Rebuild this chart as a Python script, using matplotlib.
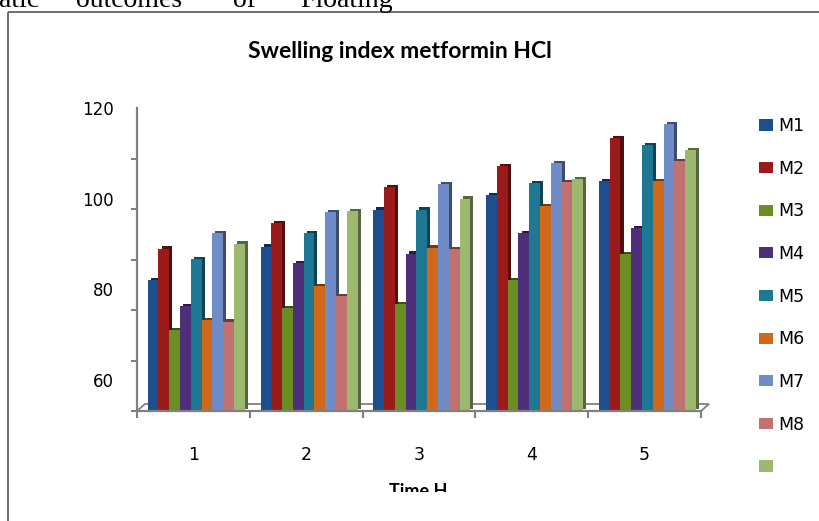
import numpy as np
import matplotlib
matplotlib.use('Agg')
import matplotlib.pyplot as plt
import matplotlib.patheffects as pe
from matplotlib.patches import Patch, Polygon, Rectangle
from matplotlib import colors as mcolors

# data
hours = ['1', '2', '3', '4', '5']
series = ['M1', 'M2', 'M3', 'M4', 'M5', 'M6', 'M7', 'M8', '']
M1 = [82.1, 89.4, 97.6, 100.8, 103.9]
M2 = [89.0, 94.6, 102.5, 107.1, 113.3]
M3 = [71.0, 75.8, 76.8, 82.1, 87.8]
M4 = [76.3, 85.7, 87.9, 92.4, 93.5]
M5 = [86.6, 92.4, 97.6, 103.5, 111.8]
M6 = [73.2, 80.7, 89.2, 98.4, 103.9]
M7 = [92.4, 97.1, 103.2, 107.8, 116.5]
M8 = [72.9, 78.5, 88.8, 103.7, 108.2]
M9 = [90.1, 97.3, 100.0, 104.3, 110.7]
values = [M1, M2, M3, M4, M5, M6, M7, M8, M9]
ytick_labels = [60, 80, 100, 120]

bar_colors = ['#1f4e8e', '#9b1a1a', '#6b8e23', '#4e2f7a', '#1e7893',
              '#d0691a', '#6f8cc6', '#c27171', '#9db96f']

plt.rcParams['font.family'] = ['DejaVu Sans']

W, H = 820, 521
fig = plt.figure(figsize=(W / 100, H / 100), dpi=100)


def px(x, y):
    # pixel position (from top-left) -> figure fraction
    return x / W, 1 - y / H


# outer frame of the chart object
fig.patches.append(Rectangle(px(8, 12), 1.0, -1.0, transform=fig.transFigure,
                             fill=False, edgecolor='#555555', lw=1.2))

# cut-off line of body text above the chart
for word, x in [('atic', -1), ('outcomes', 76), ('of', 233), ('Floating', 300)]:
    fig.text(*px(x, 7), word, family='Liberation Serif', fontsize=20,
             va='baseline', ha='left', color='black')

fig.text(*px(400, 58), 'Swelling index metformin HCl', family='Lato',
         weight='bold', fontsize=16.5, ha='center', va='baseline')

# axis title is clipped by the bottom of the chart area in the reference
xlab = fig.text(*px(418, 497), 'Time H', family='Lato', weight='bold',
                fontsize=13, ha='center', va='baseline')
clip = Rectangle(px(0, 492), 1.0, 1.0, transform=fig.transFigure)
xlab.set_clip_path(clip)

l, t = px(137, 108)
r, b = px(701, 411)
ax = fig.add_axes([l, b, r - l, t - b])

ymin, ymax = 53.16, 120
ax.set_ylim(ymin, ymax)
ax.set_xlim(-0.5, len(hours) - 0.5)

# thin 3D floor under the bars
dx, dy = 8 / 564, 7 / 303
floor = Polygon([(0, 0), (1, 0), (1 + dx, dy), (dx, dy)], closed=True,
                transform=ax.transAxes, facecolor='white',
                edgecolor='#808080', lw=1.3, clip_on=False, zorder=1)
ax.add_patch(floor)

n = len(series)
width = 0.86 / n
x = np.arange(len(hours))
for i, (vals, c) in enumerate(zip(values, bar_colors)):
    pos = x + 0.025 + (i - (n - 1) / 2) * width
    dark = tuple(np.array(mcolors.to_rgb(c)) * 0.55)
    bars = ax.bar(pos, np.array(vals) - ymin, width, bottom=ymin, color=c,
                  zorder=2 + i * 0.01, linewidth=0)
    for p in bars:
        p.set_path_effects([pe.SimplePatchShadow(offset=(2.2, 1.6),
                                                 shadow_rgbFace=dark, alpha=1),
                            pe.Normal()])

for s in ['top', 'right']:
    ax.spines[s].set_visible(False)
for s in ['left', 'bottom']:
    ax.spines[s].set_color('#808080')
    ax.spines[s].set_linewidth(1.6)
    ax.spines[s].set_zorder(5)

ax.set_yticks(ytick_labels)
ax.set_yticklabels([str(v) for v in ytick_labels])
ax.set_yticks(np.linspace(ymin, ymax, 7), minor=True)
ax.tick_params(axis='y', which='major', length=0, pad=17, labelsize=12)
ax.tick_params(axis='y', which='minor', length=4, width=1.5, color='#808080',
               direction='out')

ax.set_xticks(x)
ax.set_xticklabels(hours)
ax.set_xticks(np.arange(len(hours) + 1) - 0.5, minor=True)
ax.tick_params(axis='x', which='major', length=0, pad=25, labelsize=12.5)
ax.tick_params(axis='x', which='minor', length=5, width=1.5, color='#808080',
               direction='out')

handles = [Patch(facecolor=c, edgecolor='none') for c in bar_colors]
fig.legend(handles, series, loc='upper left',
           bbox_to_anchor=px(759, 117), frameon=False, fontsize=12.5,
           labelspacing=1.42, handlelength=0.78, handleheight=0.62,
           handletextpad=0.35, borderaxespad=0, borderpad=0)

fig.savefig('out.png', dpi=100)
